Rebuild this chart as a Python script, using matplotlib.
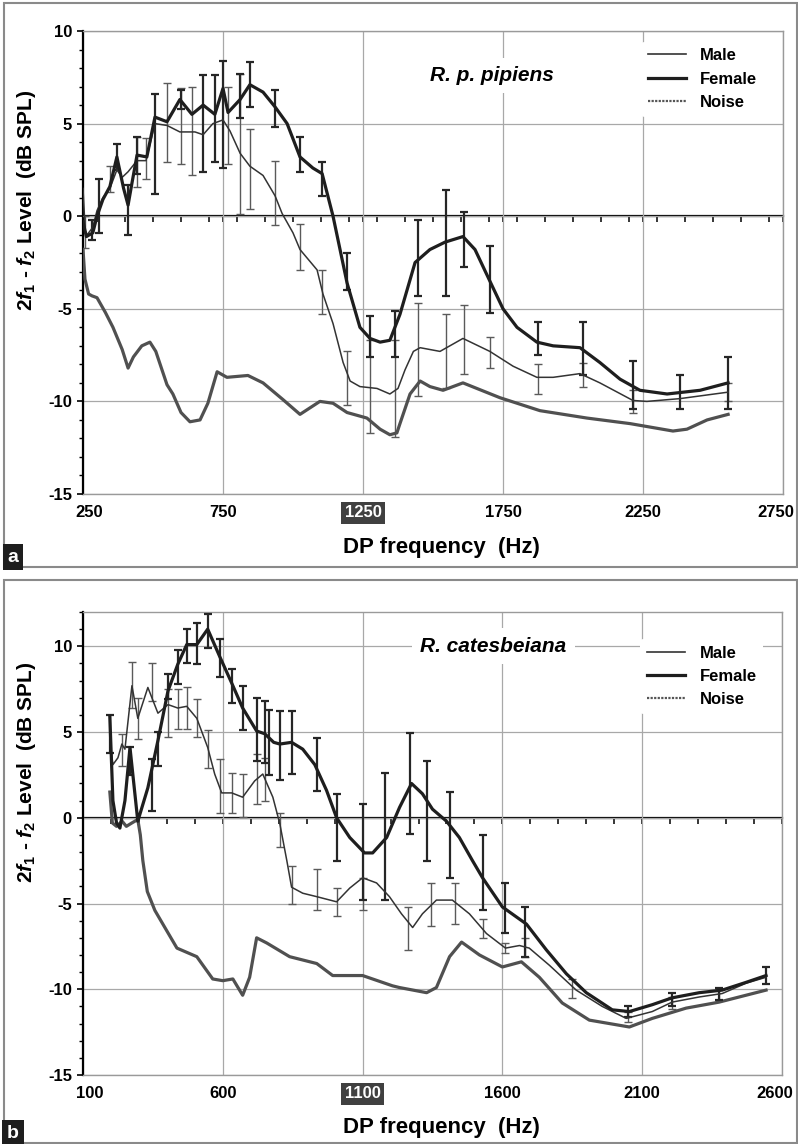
import matplotlib
matplotlib.use("Agg")
import matplotlib.pyplot as plt
from matplotlib.lines import Line2D
from matplotlib.patches import Rectangle
from matplotlib.ticker import MultipleLocator
from matplotlib.transforms import ScaledTranslation

plt.rcParams['font.family'] = ['Liberation Sans', 'DejaVu Sans']
plt.rcParams['font.weight'] = 'bold'
plt.rcParams['axes.unicode_minus'] = False
plt.rcParams['mathtext.fontset'] = 'custom'
plt.rcParams['mathtext.rm'] = 'Liberation Sans:bold'
plt.rcParams['mathtext.bf'] = 'Liberation Sans:bold'
plt.rcParams['mathtext.it'] = 'Liberation Sans:italic:bold'

# ---- panel a: R. p. pipiens ----
a_female_hz = [250, 262, 285, 300, 321, 346, 371, 395, 411, 425, 443, 478, 507, 550, 596, 639, 679,
               721, 750, 768, 811, 846, 893, 936, 979, 1025, 1071, 1104, 1143, 1193, 1239, 1275,
               1311, 1346, 1382, 1436, 1489, 1543, 1607, 1650, 1703, 1750, 1800, 1871, 1929, 2025,
               2096, 2168, 2239, 2336, 2454, 2554]
a_female_db = [-0.3, -1.1, -0.9, 0.0, 0.9, 1.6, 3.2, 1.5, 0.6, 1.8, 3.3, 3.2, 5.35, 5.1, 6.3, 5.5,
               6.0, 5.5, 6.9, 5.6, 6.3, 7.1, 6.7, 5.9, 5.0, 3.2, 2.6, 2.3, 0.0, -3.6, -6.0, -6.6,
               -6.8, -6.7, -5.3, -2.5, -1.8, -1.4, -1.1, -1.8, -3.5, -5.0, -6.0, -6.8, -7.0, -7.1,
               -7.9, -8.8, -9.4, -9.6, -9.4, -9.0]

a_male_hz = [250, 258, 265, 285, 300, 321, 346, 371, 390, 411, 443, 475, 507, 550, 596, 650, 679,
             714, 750, 775, 811, 846, 893, 936, 961, 1000, 1025, 1086, 1107, 1143, 1179, 1204,
             1239, 1300, 1346, 1375, 1400, 1430, 1454, 1525, 1607, 1703, 1786, 1871, 1929, 2025,
             2096, 2214, 2264, 2382, 2554]
a_male_db = [1.5, -0.8, -1.0, -0.6, 0.3, 1.0, 1.5, 2.5, 2.1, 2.4, 3.0, 3.0, 5.0, 4.9, 4.55, 4.55,
             4.4, 5.0, 5.2, 4.6, 3.4, 2.7, 2.2, 1.1, 0.15, -0.9, -1.8, -2.9, -4.2, -5.8, -7.9,
             -8.9, -9.2, -9.3, -9.6, -9.3, -8.3, -7.3, -7.1, -7.3, -6.6, -7.3, -8.1, -8.7, -8.7,
             -8.5, -9.0, -9.95, -10.0, -9.85, -9.5]

a_noise_hz = [250, 257, 270, 282, 300, 330, 357, 390, 411, 430, 460, 489, 510, 530, 550, 571, 600,
              632, 668, 696, 729, 764, 839, 893, 964, 1025, 1096, 1143, 1193, 1264, 1311, 1346,
              1371, 1382, 1418, 1454, 1489, 1536, 1607, 1739, 1882, 2050, 2204, 2357, 2407, 2479,
              2554]
a_noise_db = [-1.8, -3.4, -4.2, -4.3, -4.4, -5.2, -6.0, -7.2, -8.2, -7.6, -7.0, -6.8, -7.3, -8.2,
              -9.1, -9.6, -10.6, -11.1, -11.0, -10.1, -8.4, -8.7, -8.6, -9.0, -9.9, -10.7, -10.0,
              -10.1, -10.6, -10.9, -11.5, -11.8, -11.7, -11.2, -9.6, -8.9, -9.2, -9.4, -9.0, -9.8,
              -10.5, -10.9, -11.2, -11.6, -11.5, -11.0, -10.7]

a_female_err_hz = [283, 307, 371, 411, 443, 507, 600, 679, 720, 750, 811, 846, 936, 1025, 1104,
                   1193, 1275, 1364, 1446, 1545, 1610, 1703, 1875, 2036, 2214, 2382, 2554]
a_female_err_mean = [-0.75, 0.55, 3.2, 0.35, 3.3, 3.9, 6.3, 5.0, 5.25, 5.5, 6.5, 7.1, 5.8, 3.35,
                     2.0, -3.0, -6.5, -6.35, -2.25, -1.45, -1.25, -3.4, -6.6, -7.15, -9.1, -9.5,
                     -9.0]
a_female_err_sd = [0.55, 1.45, 0.7, 1.35, 1.0, 2.7, 0.5, 2.6, 2.35, 2.9, 1.2, 1.2, 1.0, 0.95, 0.9,
                   1.0, 1.1, 1.25, 2.05, 2.85, 1.5, 1.8, 0.9, 1.45, 1.3, 0.9, 1.4]

a_male_err_hz = [257, 346, 443, 475, 550, 600, 639, 768, 811, 846, 936, 1025, 1104, 1193, 1275,
                 1364, 1446, 1545, 1610, 1703, 1875, 2036, 2214, 2554]
a_male_err_mean = [-0.85, 2.0, 2.95, 3.1, 5.05, 4.85, 4.6, 4.9, 3.9, 2.55, 1.25, -1.65, -4.1,
                   -8.75, -9.2, -9.3, -7.2, -7.3, -6.65, -7.35, -8.8, -8.55, -10.0, -9.5]
a_male_err_sd = [0.85, 0.7, 1.35, 1.1, 2.15, 2.05, 2.4, 2.1, 3.8, 2.15, 1.75, 1.25, 1.2, 1.45, 2.5,
                 2.6, 2.5, 2.0, 1.85, 0.85, 0.8, 0.65, 0.6, 0.5]

# ---- panel b: R. catesbeiana ----
b_female_hz = [196, 207, 220, 232, 250, 268, 296, 332, 368, 404, 439, 471, 507, 546, 589, 632, 671,
               721, 750, 782, 804, 846, 886, 929, 971, 1007, 1054, 1107, 1136, 1186, 1232, 1275,
               1314, 1350, 1400, 1446, 1493, 1529, 1600, 1686, 1757, 1829, 1900, 1993, 2054, 2136,
               2207, 2304, 2386, 2471, 2543]
b_female_db = [5.9, 1.0, -0.3, -0.6, 1.0, 4.1, -0.2, 1.75, 4.5, 7.4, 8.95, 10.1, 10.1, 11.0, 9.4,
               7.85, 6.4, 5.06, 4.9, 4.4, 4.3, 4.4, 4.0, 3.1, 1.6, 0.0, -1.15, -2.05, -2.05, -1.15,
               0.6, 2.0, 1.4, 0.5, -0.2, -1.15, -2.5, -3.5, -5.2, -6.2, -7.7, -9.1, -10.2, -11.2,
               -11.3, -10.9, -10.5, -10.2, -10.05, -9.6, -9.2]

b_male_hz = [196, 207, 225, 239, 250, 275, 296, 332, 368, 404, 439, 471, 507, 546, 571, 596, 632,
             671, 714, 743, 779, 804, 829, 846, 886, 936, 1007, 1054, 1100, 1150, 1196, 1239, 1279,
             1314, 1364, 1421, 1482, 1543, 1611, 1661, 1696, 1768, 1864, 1957, 2043, 2136, 2207,
             2304, 2386, 2471, 2543]
b_male_db = [4.5, 3.1, 3.5, 4.3, 4.0, 7.7, 5.8, 7.6, 6.1, 6.6, 6.4, 6.5, 5.8, 4.1, 2.55, 1.45,
             1.45, 1.2, 2.15, 2.55, 1.2, -0.35, -2.5, -4.05, -4.4, -4.6, -4.9, -4.1, -3.5, -3.8,
             -4.6, -5.6, -6.4, -5.6, -4.8, -4.8, -5.6, -6.75, -7.6, -7.45, -7.6, -8.6, -10.05,
             -11.0, -11.7, -11.3, -10.75, -10.45, -10.25, -9.65, -9.3]

b_noise_hz = [196, 205, 220, 240, 255, 275, 296, 305, 314, 330, 357, 400, 436, 507, 564, 600, 636,
              671, 696, 721, 757, 839, 936, 993, 1100, 1207, 1232, 1329, 1364, 1411, 1454, 1518,
              1600, 1668, 1732, 1814, 1911, 2054, 2136, 2257, 2375, 2543]
b_noise_db = [1.5, -0.3, -0.5, -0.2, -0.5, -0.3, -0.1, -1.0, -2.5, -4.3, -5.4, -6.6, -7.6, -8.1,
              -9.4, -9.5, -9.4, -10.35, -9.3, -7.0, -7.3, -8.1, -8.5, -9.2, -9.2, -9.8, -9.9,
              -10.2, -9.9, -8.1, -7.25, -8.0, -8.7, -8.4, -9.3, -10.8, -11.8, -12.2, -11.7,
              -11.1, -10.75, -10.05]

b_female_err_hz = [196, 268, 346, 368, 404, 439, 471, 507, 546, 589, 632, 671, 721, 750, 764, 804,
                   846, 936, 1007, 1100, 1179, 1268, 1329, 1411, 1529, 1611, 1682, 2050, 2207,
                   2375, 2543]
b_female_err_mean = [4.9, 3.3, 1.9, 4.0, 7.65, 8.8, 10.0, 10.15, 10.9, 9.3, 7.7, 6.4, 5.15, 5.0,
                     4.4, 4.2, 4.4, 3.1, -0.55, -2.0, -1.1, 2.0, 0.4, -1.0, -3.2, -5.25, -6.65,
                     -11.3, -10.6, -10.25, -9.2]
b_female_err_sd = [1.1, 0.8, 1.5, 1.0, 0.75, 1.0, 1.0, 1.2, 1.0, 1.1, 1.0, 1.3, 1.85, 1.8, 1.9,
                   2.0, 1.85, 1.55, 1.95, 2.8, 3.7, 2.95, 2.9, 2.5, 2.2, 1.45, 1.45, 0.3, 0.4,
                   0.35, 0.5]

b_male_err_hz = [239, 275, 296, 346, 404, 439, 471, 507, 546, 589, 632, 671, 721, 750, 804, 846,
                 936, 1007, 1100, 1264, 1346, 1429, 1529, 1611, 1682, 1850, 2050, 2207, 2375]
b_male_err_mean = [3.95, 7.75, 5.8, 7.9, 6.1, 6.35, 6.4, 5.8, 4.0, 1.85, 1.45, 1.3, 2.25, 2.25,
                   -0.7, -3.9, -4.2, -4.9, -4.45, -6.45, -5.05, -5.0, -6.45, -7.6, -7.55, -9.95,
                   -11.6, -10.8, -10.3]
b_male_err_sd = [0.95, 1.35, 1.2, 1.1, 1.4, 1.15, 1.2, 1.1, 1.1, 1.55, 1.15, 1.25, 1.45, 1.25, 1.0,
                 1.1, 1.2, 0.8, 0.95, 1.25, 1.25, 1.2, 0.55, 0.3, 0.55, 0.55, 0.3, 0.35, 0.3]

W, H = 798, 1144


def fx(px):
    return px / W


def fy(py):
    return 1 - py / H


def draw_panel(ax, xlim, ylim, xticks, yticks, hl_tick, title, title_xy,
               fem, male, noise, fem_err, male_err, leg_anchor):
    ax.set_xlim(*xlim)
    ax.set_ylim(*ylim)

    # error bars first so the curves sit on top
    ax.errorbar(male_err[0], male_err[1], yerr=male_err[2], fmt='none', ecolor='#5a5a5a',
                elinewidth=1.0, capsize=2.6, capthick=1.0, zorder=3)
    ax.errorbar(fem_err[0], fem_err[1], yerr=fem_err[2], fmt='none', ecolor='#262626',
                elinewidth=1.6, capsize=3.0, capthick=1.6, zorder=4)

    ax.plot(noise[0], noise[1], color='#505050', lw=2.3, solid_joinstyle='round', zorder=3)
    ax.plot(male[0], male[1], color='#333333', lw=1.1, solid_joinstyle='round', zorder=4)
    ax.plot(fem[0], fem[1], color='#1e1e1e', lw=2.3, solid_joinstyle='round', zorder=5)

    ax.set_xticks(xticks, labels=[str(t) for t in xticks])
    ax.set_yticks(yticks, labels=[str(t) for t in yticks])
    ax.yaxis.set_minor_locator(MultipleLocator(1))
    ax.grid(True, color='#a8a8a8', lw=0.9, zorder=0)
    ax.set_axisbelow(True)

    for side in ('top', 'right', 'bottom'):
        ax.spines[side].set_color('#9a9a9a')
        ax.spines[side].set_linewidth(1.0)
    ax.spines['left'].set_color('black')
    ax.spines['left'].set_linewidth(1.6)

    ax.tick_params(axis='x', length=0, pad=8, labelsize=12)
    ax.tick_params(axis='y', which='major', direction='out', length=4, width=1.2, pad=4,
                   labelsize=12)
    ax.tick_params(axis='y', which='minor', direction='out', length=3, width=1.0)

    labels = ax.get_xticklabels()
    hl = labels[xticks.index(hl_tick)]
    hl.set_color('white')
    hl.set_bbox(dict(facecolor='#404040', edgecolor='none', pad=2.5))
    # end labels pulled inward a little
    dpi_tr = ax.figure.dpi_scale_trans
    labels[0].set_transform(labels[0].get_transform() + ScaledTranslation(0.065, 0, dpi_tr))
    labels[-1].set_transform(labels[-1].get_transform() + ScaledTranslation(-0.07, 0, dpi_tr))

    # zero line with 100 Hz ticks
    frac = (0 - ylim[0]) / (ylim[1] - ylim[0])
    zero = ax.secondary_xaxis(frac)
    zero.set_xticks(xticks, labels=[''] * len(xticks))
    zero.xaxis.set_minor_locator(MultipleLocator(100))
    for s in zero.spines.values():
        s.set_color('black')
        s.set_linewidth(1.6)
    zero.tick_params(which='both', direction='in', length=4, width=1.1, color='black')

    ax.text(title_xy[0], title_xy[1], title, fontsize=15, fontstyle='italic', fontweight='bold',
            ha='left', va='center', zorder=6,
            bbox=dict(facecolor='white', edgecolor='none', pad=6))

    handles = [Line2D([], [], color='#333333', lw=1.2),
               Line2D([], [], color='#1e1e1e', lw=2.3),
               Line2D([], [], color='#555555', lw=1.6, ls=(0, (1, 0.6)))]
    leg = ax.legend(handles, ['Male', 'Female', 'Noise'], loc='upper right',
                    bbox_to_anchor=leg_anchor, fontsize=12, frameon=True, facecolor='white',
                    edgecolor='none', framealpha=1, handlelength=2.3, handletextpad=0.85,
                    labelspacing=0.5, borderpad=0.4)
    leg.set_zorder(7)


fig = plt.figure(figsize=(W / 100, H / 100), dpi=100)

ax_a = fig.add_axes([fx(83), fy(494), (783 - 83) / W, (494 - 31) / H])
draw_panel(ax_a, (250, 2750), (-15, 10), [250, 750, 1250, 1750, 2250, 2750],
           [-15, -10, -5, 0, 5, 10], 1250, 'R. p. pipiens', (1489, 7.6),
           (a_female_hz, a_female_db), (a_male_hz, a_male_db), (a_noise_hz, a_noise_db),
           (a_female_err_hz, a_female_err_mean, a_female_err_sd),
           (a_male_err_hz, a_male_err_mean, a_male_err_sd), (0.985, 0.995))

ax_b = fig.add_axes([fx(83), fy(1075), (782 - 83) / W, (1075 - 612) / H])
draw_panel(ax_b, (100, 2600), (-15, 12), [100, 600, 1100, 1600, 2100, 2600],
           [-15, -10, -5, 0, 5, 10], 1100, 'R. catesbeiana', (1307, 10.0),
           (b_female_hz, b_female_db), (b_male_hz, b_male_db), (b_noise_hz, b_noise_db),
           (b_female_err_hz, b_female_err_mean, b_female_err_sd),
           (b_male_err_hz, b_male_err_mean, b_male_err_sd), (0.985, 0.96))

ylab = r'2$\mathit{f}_1$ - $\mathit{f}_2$ Level  (dB SPL)'
for py_lab, py_x, py_box, letter in ((200, 547, 557, 'a'), (772, 1127, 1133, 'b')):
    fig.text(fx(27), fy(py_lab), ylab, rotation=90, ha='center', va='center', fontsize=15)
    fig.text(fx(441), fy(py_x), 'DP frequency  (Hz)', ha='center', va='center', fontsize=16)
    fig.text(fx(13), fy(py_box), letter, ha='center', va='center', fontsize=14, color='white',
             bbox=dict(facecolor='#1e1e1e', edgecolor='none', pad=3.5))

# panel frames
fig.add_artist(Rectangle((fx(4), fy(567)), 793 / W, 564 / H, transform=fig.transFigure,
                         fill=False, edgecolor='#8a8a8a', lw=1.5))
fig.add_artist(Rectangle((fx(4), fy(1143)), 793 / W, 563 / H, transform=fig.transFigure,
                         fill=False, edgecolor='#8a8a8a', lw=1.5))

fig.savefig('out.png', dpi=100)
